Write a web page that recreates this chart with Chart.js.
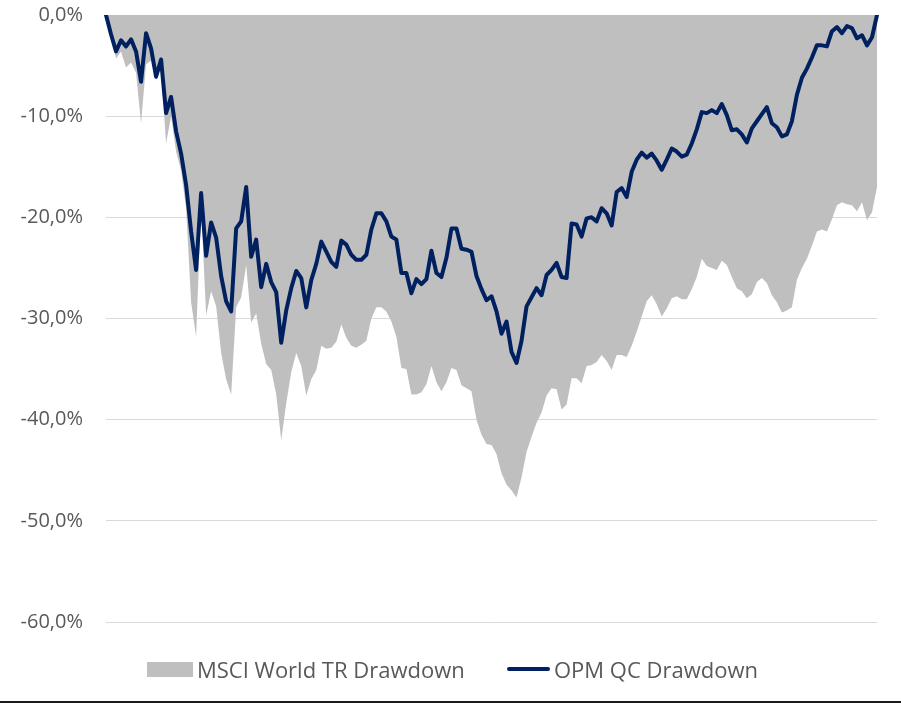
<!DOCTYPE html>
<html>
<head>
<meta charset="utf-8">
<script src="https://cdn.jsdelivr.net/npm/chart.js@4/dist/chart.umd.min.js"></script>
<style>
  html, body { margin: 0; padding: 0; background: #fff; }
  #wrap { position: relative; width: 901px; height: 704px; overflow: hidden; }
  #c { position: absolute; left: 0; top: 0; }
  #legend { position: absolute; left: 0; top: 655px; width: 901px; height: 28px;
            font-family: "Open Sans", sans-serif; font-size: 22px; color: #595959; }
  .item { position: absolute; top: 0; height: 28px; line-height: 28px; white-space: nowrap; }
  .sw { position: absolute; }
  #bottomline { position: absolute; left: 0; top: 701px; width: 901px; height: 2px; background: #1a1a1a; }
</style>
</head>
<body>
<div id="wrap">
  <canvas id="c" width="901" height="704"></canvas>
  <div id="legend"></div>
  <div id="bottomline"></div>
</div>
<script>
// ---- data (drawdown in %, weekly observations) ----
const seriesNames = ["MSCI World TR Drawdown", "OPM QC Drawdown"];

const msciDrawdown = [
  0.0, -2.0, -4.3, -3.6, -5.2, -4.7, -5.7, -10.7, -4.9, -4.5,
  -6.4, -5.3, -12.7, -10.0, -13.5, -15.4, -19.1, -28.4, -31.8, -19.0,
  -29.7, -27.3, -28.8, -33.4, -36.0, -37.5, -28.9, -27.9, -24.7, -30.4,
  -29.5, -32.5, -34.5, -35.1, -37.5, -42.0, -38.4, -35.3, -33.4, -34.7,
  -37.6, -36.0, -35.1, -32.7, -33.0, -32.9, -32.3, -30.6, -31.9, -32.7,
  -32.9, -32.6, -32.2, -30.0, -28.9, -28.9, -29.3, -30.3, -31.8, -34.9,
  -35.0, -37.5, -37.5, -37.3, -36.5, -34.7, -36.3, -37.2, -36.3, -34.9,
  -35.1, -36.6, -36.9, -37.2, -40.0, -41.5, -42.4, -42.5, -43.4, -45.3,
  -46.4, -47.0, -47.7, -45.7, -43.2, -41.7, -40.3, -39.3, -37.6, -36.9,
  -37.0, -39.0, -38.5, -35.9, -35.9, -36.4, -34.7, -34.6, -34.3, -33.6,
  -34.2, -35.1, -33.6, -33.6, -33.8, -32.7, -31.3, -29.8, -28.3, -27.7,
  -28.6, -29.8, -29.0, -28.0, -27.8, -28.1, -28.1, -27.1, -25.9, -24.1,
  -24.8, -25.0, -25.2, -24.3, -24.7, -25.9, -27.0, -27.3, -28.0, -27.6,
  -26.4, -26.0, -26.5, -27.7, -28.4, -29.4, -29.2, -28.9, -26.2, -25.0,
  -24.1, -22.8, -21.4, -21.2, -21.4, -20.2, -18.8, -18.5, -18.7, -18.8,
  -19.4, -18.5, -20.3, -19.5, -17.0
];

const opmDrawdown = [
  0.0, -1.9, -3.6, -2.5, -3.1, -2.4, -3.6, -6.6, -1.8, -3.3,
  -6.1, -4.4, -9.7, -8.1, -11.5, -13.7, -16.8, -21.4, -25.2, -17.6,
  -23.8, -20.5, -22.0, -25.8, -28.3, -29.3, -21.1, -20.4, -17.0, -23.9,
  -22.2, -26.9, -24.6, -26.4, -27.4, -32.4, -29.2, -27.0, -25.3, -26.0,
  -28.9, -26.2, -24.6, -22.4, -23.4, -24.4, -24.9, -22.3, -22.7, -23.7,
  -24.2, -24.2, -23.7, -21.2, -19.6, -19.6, -20.4, -21.9, -22.2, -25.5,
  -25.5, -27.5, -26.1, -26.6, -26.1, -23.3, -25.5, -25.9, -24.0, -21.1,
  -21.1, -23.1, -23.2, -23.4, -25.8, -27.1, -28.2, -27.8, -29.3, -31.5,
  -30.3, -33.3, -34.4, -32.2, -28.8, -27.9, -27.0, -27.7, -25.7, -25.2,
  -24.5, -25.9, -26.0, -20.6, -20.7, -21.9, -20.1, -20.0, -20.4, -19.1,
  -19.6, -20.8, -17.5, -17.1, -18.0, -15.5, -14.3, -13.6, -14.1, -13.7,
  -14.4, -15.3, -14.3, -13.2, -13.5, -14.0, -13.8, -12.7, -11.3, -9.6,
  -9.7, -9.4, -9.7, -8.8, -9.9, -11.4, -11.3, -11.8, -12.6, -11.2,
  -10.5, -9.8, -9.1, -10.7, -11.1, -12.0, -11.8, -10.5, -7.9, -6.2,
  -5.3, -4.2, -3.0, -3.0, -3.1, -1.6, -1.2, -1.8, -1.1, -1.3,
  -2.3, -2.0, -3.0, -2.2, 0.0
];

const weeks = opmDrawdown.map((_, i) => "W" + (i + 1));   // observation index (no axis labels shown)
const yTickValues = [0, -10, -20, -30, -40, -50, -60];

// ---- styles ----
const GREY = "#bfbfbf";
const NAVY = "#002060";
const TEXT = "#595959";

const ctx = document.getElementById("c").getContext("2d");
const chart = new Chart(ctx, {
  type: "line",
  data: {
    labels: weeks,
    datasets: [
      {
        label: seriesNames[1],
        data: opmDrawdown,
        borderColor: NAVY,
        backgroundColor: NAVY,
        borderWidth: 4,
        pointRadius: 0,
        tension: 0,
        fill: false,
        borderJoinStyle: "round",
        borderCapStyle: "round",
        order: 1
      },
      {
        label: seriesNames[0],
        data: msciDrawdown,
        borderColor: GREY,
        backgroundColor: GREY,
        borderWidth: 0,
        pointRadius: 0,
        tension: 0,
        fill: "origin",
        order: 2
      }
    ]
  },
  options: {
    responsive: false,
    animation: false,
    events: [],
    layout: { padding: { left: 0, right: 24, top: 15, bottom: 82 } },
    plugins: { legend: { display: false }, tooltip: { enabled: false } },
    scales: {
      x: {
        display: false,
        offset: false
      },
      y: {
        min: -60,
        max: 0,
        afterBuildTicks: (s) => { s.ticks = yTickValues.map(v => ({ value: v })); },
        afterFit: (s) => { s.width = 106; s.paddingTop = 0; s.paddingBottom = 0; },
        border: { display: false },
        grid: { color: "#d9d9d9", lineWidth: 1, drawTicks: false },
        ticks: {
          padding: 23,
          color: TEXT,
          font: { family: "'Open Sans', sans-serif", size: 20 },
          callback: (v) => v.toFixed(1).replace(".", ",") + "%"
        }
      }
    }
  }
});

// ---- legend (built from the dataset definitions) ----
const legend = document.getElementById("legend");
const items = [
  { ds: chart.data.datasets[1], left: 147, swW: 46, swH: 15, kind: "box" },
  { ds: chart.data.datasets[0], left: 507, swW: 43, swH: 4, kind: "line" }
];
items.forEach(it => {
  const d = document.createElement("div");
  d.className = "item";
  d.style.left = it.left + "px";
  const sw = document.createElement("div");
  sw.className = "sw";
  sw.style.left = "0px";
  sw.style.width = it.swW + "px";
  sw.style.height = it.swH + "px";
  sw.style.top = (14 - it.swH / 2) + "px";
  sw.style.background = it.kind === "box" ? it.ds.backgroundColor : it.ds.borderColor;
  if (it.kind === "line") sw.style.borderRadius = "2px";
  d.appendChild(sw);
  const t = document.createElement("span");
  t.textContent = it.ds.label;
  t.style.marginLeft = (it.swW + 4) + "px";
  d.appendChild(t);
  legend.appendChild(d);
});
</script>
</body>
</html>
